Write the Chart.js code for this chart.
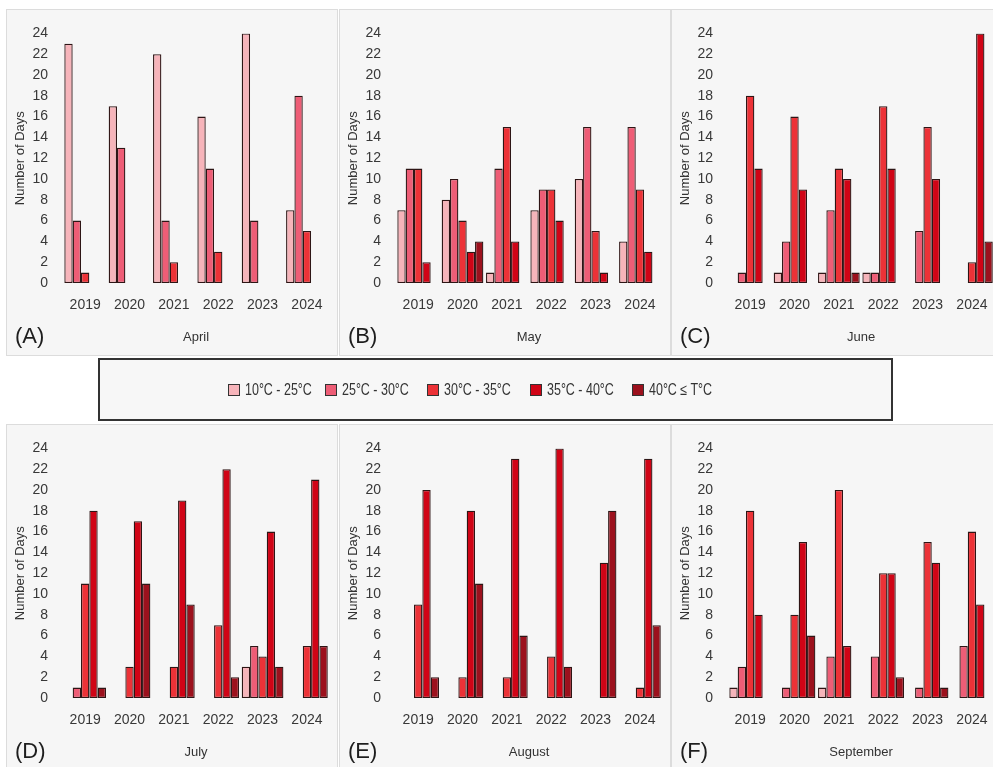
<!DOCTYPE html>
<html>
<head>
<meta charset="utf-8">
<script src="https://cdn.jsdelivr.net/npm/chart.js@4.4.1/dist/chart.umd.min.js"></script>
<style>
  html, body { margin: 0; padding: 0; background: #ffffff; }
  body { width: 993px; height: 767px; overflow: hidden; position: relative;
         font-family: "Liberation Sans", Arial, sans-serif; }
  .panel { position: absolute; width: 330px; height: 345px; background: #f6f6f6;
           box-shadow: 0 0 0 1px #dcdcdc; }
  .panel canvas { position: absolute; left: 0; top: 0; }
  .tag { position: absolute; left: 8px; top: 313px; font-size: 22px; color: #1e1e1e; line-height: 26px; }
  .legend { position: absolute; left: 98px; top: 358px; width: 795px; height: 63px;
            box-sizing: border-box; border: 2px solid #333; background: #f7f7f7; }
  .item { position: absolute; top: 21px; height: 18px; display: flex; align-items: center;
          font-size: 16px; color: #333; white-space: nowrap; }
  .swatch { width: 10px; height: 10px; border: 1px solid #333; margin-right: 5px; flex: none; }
  .label { display: inline-block; transform: scaleX(0.78); transform-origin: left center; }
</style>
</head>
<body>
<div id="root"></div>
<script>
// Years on the category axis and the temperature bands (one bar per band)
const years = ['2019', '2020', '2021', '2022', '2023', '2024'];
const bands = ['10°C - 25°C', '25°C - 30°C', '30°C - 35°C', '35°C - 40°C', '40°C ≤ T°C'];
const yTicksMax = 24;
const yTickStep = 2;

// Number of days per band, listed band by band (rows) across the years (columns)
const april = [
  [23, 17, 22, 16, 24, 7],
  [6, 13, 6, 11, 6, 18],
  [1, 0, 2, 3, 0, 5],
  [0, 0, 0, 0, 0, 0],
  [0, 0, 0, 0, 0, 0]
];
const may = [
  [7, 8, 1, 7, 10, 4],
  [11, 10, 11, 9, 15, 15],
  [11, 6, 15, 9, 5, 9],
  [2, 3, 4, 6, 1, 3],
  [0, 4, 0, 0, 0, 0]
];
const june = [
  [0, 1, 1, 1, 0, 0],
  [1, 4, 7, 1, 5, 0],
  [18, 16, 11, 17, 15, 2],
  [11, 9, 10, 11, 10, 24],
  [0, 0, 1, 0, 0, 4]
];
const july = [
  [0, 0, 0, 0, 3, 0],
  [1, 0, 0, 0, 5, 0],
  [11, 3, 3, 7, 4, 5],
  [18, 17, 19, 22, 16, 21],
  [1, 11, 9, 2, 3, 5]
];
const august = [
  [0, 0, 0, 0, 0, 0],
  [0, 0, 0, 0, 0, 0],
  [9, 2, 2, 4, 0, 1],
  [20, 18, 23, 24, 13, 23],
  [2, 11, 6, 3, 18, 7]
];
const september = [
  [1, 0, 1, 0, 0, 0],
  [3, 1, 4, 4, 1, 5],
  [18, 8, 20, 12, 15, 16],
  [8, 15, 5, 12, 13, 9],
  [0, 6, 0, 2, 1, 0]
];

const monthNames = ['April', 'May', 'June', 'July', 'August', 'September'];
const panelTags = ['(A)', '(B)', '(C)', '(D)', '(E)', '(F)'];
const monthData = [april, may, june, july, august, september];

// Styling
const bandColors = ['#f6b4ba', '#ee5d76', '#ec3237', '#d00416', '#9c111d'];
const edgeColor = '#2e1515';
const panelOrigins = [[7, 10], [340, 10], [672, 10], [7, 425], [340, 425], [672, 425]];
const legendLefts = [128, 225, 327, 430, 532];
const fontFamily = '"Liberation Sans", Arial, sans-serif';

const root = document.getElementById('root');

monthData.forEach((rows, i) => {
  const panel = document.createElement('div');
  panel.className = 'panel';
  panel.style.left = panelOrigins[i][0] + 'px';
  panel.style.top = panelOrigins[i][1] + 'px';
  const canvas = document.createElement('canvas');
  canvas.width = 330;
  canvas.height = 345;
  panel.appendChild(canvas);
  const tag = document.createElement('div');
  tag.className = 'tag';
  tag.textContent = panelTags[i];
  panel.appendChild(tag);
  root.appendChild(panel);

  new Chart(canvas, {
    type: 'bar',
    data: {
      labels: years,
      datasets: bands.map((b, k) => ({
        label: b,
        data: rows[k],
        backgroundColor: bandColors[k],
        borderColor: edgeColor,
        borderWidth: 1.3,
        borderSkipped: false,
        barPercentage: 1.0,
        categoryPercentage: 0.94
      }))
    },
    options: {
      responsive: false,
      animation: false,
      devicePixelRatio: 1,
      layout: { padding: { top: 18, right: 6, left: 0, bottom: 0 } },
      plugins: { legend: { display: false }, tooltip: { enabled: false } },
      scales: {
        x: {
          grid: { display: false, drawTicks: false },
          border: { display: false },
          ticks: { padding: 14, color: '#383838', font: { family: fontFamily, size: 14 } },
          title: { display: true, text: monthNames[i], color: '#333',
                   font: { family: fontFamily, size: 13 },
                   padding: { top: 0, bottom: 10 } },
          afterFit(s) { s.height = 72; }
        },
        y: {
          min: 0,
          max: yTicksMax,
          grid: { display: false, drawTicks: false },
          border: { display: false },
          ticks: { stepSize: yTickStep, padding: 15, color: '#383838',
                   font: { family: fontFamily, size: 14 } },
          title: { display: true, text: 'Number of Days', color: '#333',
                   font: { family: fontFamily, size: 13 },
                   padding: { top: 6, bottom: 0 } },
          afterFit(s) { s.width = 56; }
        }
      }
    }
  });
});

// Shared legend for the temperature bands
const legend = document.createElement('div');
legend.className = 'legend';
bands.forEach((b, k) => {
  const item = document.createElement('div');
  item.className = 'item';
  item.style.left = legendLefts[k] + 'px';
  const sw = document.createElement('span');
  sw.className = 'swatch';
  sw.style.background = bandColors[k];
  const tx = document.createElement('span');
  tx.className = 'label';
  tx.textContent = b;
  item.appendChild(sw);
  item.appendChild(tx);
  legend.appendChild(item);
});
root.appendChild(legend);
</script>
</body>
</html>
